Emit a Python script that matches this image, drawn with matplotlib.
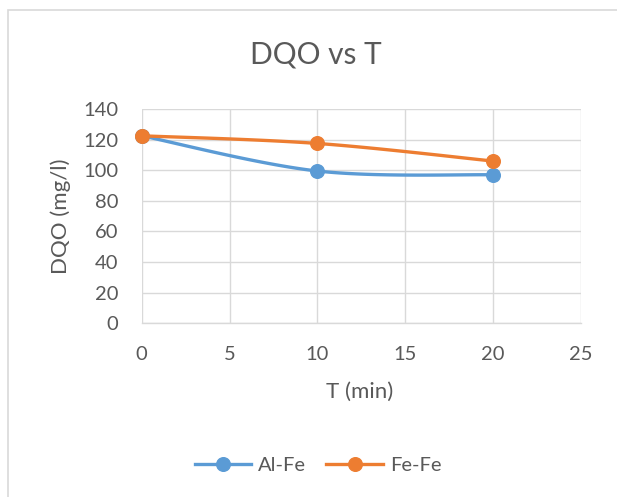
import numpy as np
import matplotlib
matplotlib.use("Agg")
import matplotlib.pyplot as plt
from matplotlib.patches import Rectangle

# Data
time_min = [0, 10, 20]
al_fe = [122.5, 99.5, 97.0]
fe_fe = [122.5, 117.5, 106.0]
series_names = ["Al-Fe", "Fe-Fe"]
x_ticks = [0, 5, 10, 15, 20, 25]
y_ticks = [0, 20, 40, 60, 80, 100, 120, 140]

BLUE = "#5B9BD5"
ORANGE = "#ED7D31"
TEXT = "#595959"
GRID = "#D9D9D9"

plt.rcParams["font.family"] = ["Lato", "DejaVu Sans"]

fig = plt.figure(figsize=(6.17, 4.97), dpi=100)
W, H = 617, 497

# Chart frame
fig.patches.append(Rectangle((8 / W, 0 - 0.01), 1.02, (H - 10) / H + 0.01,
                             transform=fig.transFigure, fill=False,
                             edgecolor=GRID, linewidth=1.2))

ax = fig.add_axes([141.7 / W, 1 - 323.3 / H, (580.7 - 141.7) / W, (323.3 - 109) / H])
ax.set_xlim(0, 25)
ax.set_ylim(0, 140)


def smooth(xs, ys, xr, yr, n=60):
    """Bezier smoothing through points (Catmull-Rom style), in axis-normalised space."""
    p = np.column_stack([np.asarray(xs, float) / xr, np.asarray(ys, float) / yr])
    out = []
    m = len(p)
    for i in range(m - 1):
        p0 = p[i - 1] if i > 0 else p[i]
        p1 = p[i]
        p2 = p[i + 1]
        p3 = p[i + 2] if i + 2 < m else p[i + 1]
        c1 = p1 + (p2 - p0) / 6.0
        c2 = p2 - (p3 - p1) / 6.0
        t = np.linspace(0, 1, n)[:, None]
        seg = ((1 - t) ** 3) * p1 + 3 * ((1 - t) ** 2) * t * c1 + 3 * (1 - t) * t ** 2 * c2 + t ** 3 * p2
        out.append(seg if i == 0 else seg[1:])
    s = np.vstack(out)
    return s[:, 0] * xr, s[:, 1] * yr


for ys, color, name in [(al_fe, BLUE, series_names[0]), (fe_fe, ORANGE, series_names[1])]:
    sx, sy = smooth(time_min, ys, 25 * 1.0, 140 * (214.3 / 439.0))
    ax.plot(sx, sy, color=color, lw=2.4, solid_capstyle="round", zorder=3)
    ax.plot(time_min, ys, linestyle="none", marker="o", markersize=9.8,
            color=color, zorder=4, clip_on=False)
    ax.plot([], [], color=color, lw=2.4, marker="o", markersize=9.8, label=name)

ax.set_xticks(x_ticks)
ax.set_yticks(y_ticks)
ax.grid(True, color=GRID, linewidth=1.0)
ax.set_axisbelow(True)
for side in ["top", "right", "left"]:
    ax.spines[side].set_visible(False)
ax.spines["bottom"].set_color(GRID)
ax.spines["bottom"].set_linewidth(1.0)
ax.tick_params(length=0, labelsize=14.5, labelcolor=TEXT)
ax.tick_params(axis="y", pad=17)
ax.tick_params(axis="x", pad=16)

fig.text(316 / W, 1 - 55 / H, "DQO vs T", ha="center", va="center", fontsize=21.5, color=TEXT)
fig.text(61 / W, 1 - 216 / H, "DQO (mg/l)", ha="center", va="center", rotation=90,
         fontsize=16, color=TEXT)
fig.text(360 / W, 1 - 392 / H, "T (min)", ha="center", va="center", fontsize=16, color=TEXT)

fig.legend(loc="center", bbox_to_anchor=(318 / W, 1 - 465 / H), ncol=2, frameon=False,
           fontsize=14.5, labelcolor=TEXT, handlelength=2.8, columnspacing=1.0,
           handletextpad=0.35)

fig.savefig("out.png", dpi=100, facecolor="white")
